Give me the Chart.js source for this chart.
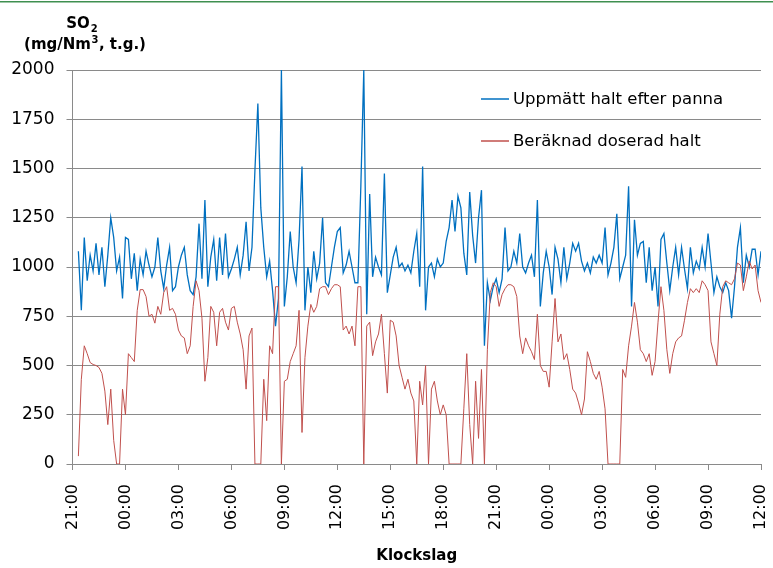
<!DOCTYPE html>
<html>
<head>
<meta charset="utf-8">
<script src="https://cdn.jsdelivr.net/npm/chart.js@4.4.0/dist/chart.umd.min.js"></script>
<style>
  html, body { margin: 0; padding: 0; background: #fff; }
</style>
</head>
<body>
<canvas id="so2Chart" width="773" height="568"></canvas>
<script>
// x axis: 3 hour ticks from 21:00 to 12:00 (day after next)
const timeLabels = ['21:00', '00:00', '03:00', '06:00', '09:00', '12:00', '15:00',
                    '18:00', '21:00', '00:00', '03:00', '06:00', '09:00', '12:00'];
const hoursPerTick = 3;
const sampleHours = 1 / 6; // one reading every 10 minutes

const seriesNames = ['Uppmätt halt efter panna', 'Beräknad doserad halt'];

// Uppmätt halt efter panna (mg/Nm3)
const measured = [
  null, null, 1080, 780, 1150, 930, 1060, 980, 1120, 960,
  1100, 900, 1060, 1250, 1150, 980, 1050, 840, 1150, 1140,
  940, 1070, 880, 1040, 960, 1080, 1010, 950, 1000, 1150,
  980, 890, 1010, 1100, 880, 900, 1000, 1060, 1100, 960,
  880, 860, 950, 1220, 940, 1340, 900, 1050, 1140, 930,
  1150, 960, 1170, 950, 990, 1040, 1100, 960, 1060, 1230,
  980, 1100, 1490, 1830, 1300, 1100, 950, 1030, 880, 700,
  840, 2000, 800, 950, 1180, 1000, 920, 1140, 1510, 780,
  1000, 870, 1080, 940, 1020, 1250, 920, 900, 1000, 1100,
  1180, 1200, 970, 1010, 1080, 1000, 920, 920, 1410, 2000,
  760, 1370, 950, 1050, 1000, 960, 1475, 870, 960, 1050,
  1100, 1000, 1020, 980, 1010, 970, 1080, 1170, 900, 1510,
  780, 1000, 1020, 950, 1040, 1000, 1020, 1130, 1200, 1340,
  1180, 1360, 1300, 1070, 960, 1380, 1160, 1020, 1250, 1390,
  600, 920, 830, 900, 940, 870, 940, 1200, 980, 1000,
  1080, 1020, 1170, 1000, 970, 1020, 1060, 950, 1340, 800,
  970, 1080, 1000, 860, 1100, 1040, 920, 1100, 940, 1020,
  1120, 1080, 1120, 1030, 980, 1020, 970, 1050, 1020, 1060,
  1020, 1200, 960, 1020, 1100, 1270, 940, 1000, 1060, 1410,
  800, 1240, 1060, 1120, 1130, 920, 1100, 880, 1000, 800,
  1140, 1170, 1020, 880, 1000, 1100, 960, 1100, 990, 890,
  1100, 970, 1030, 990, 1100, 1000, 1170, 1020, 870, 950,
  900, 870, 920, 880, 740, 900, 1100, 1200, 920, 1060,
  1000, 1090, 1090, 960, 1080
];

// Beräknad doserad halt (mg/Nm3)
const dosed = [
  null, null, 40, 430, 600, 560, 515, 505, 500, 490,
  460, 370, 200, 380, 120, 0, 0, 380, 250, 560,
  540, 520, 780, 885, 885, 850, 750, 760, 715, 800,
  760, 870, 900, 780, 790, 760, 680, 650, 640, 560,
  600, 800, 930, 880, 740, 420, 540, 800, 770, 600,
  770, 790, 720, 680, 790, 800, 720, 660, 580, 380,
  650, 690, 0, 0, 0, 430, 220, 600, 560, 900,
  900, 0, 420, 430, 520, 560, 600, 780, 160, 540,
  700, 810, 770, 800, 890, 900, 900, 860, 890, 910,
  910, 900, 680, 700, 660, 700, 600, 900, 900, 0,
  700, 720, 550, 620, 660, 760, 560, 360, 730, 720,
  650, 500, 440, 380, 430, 360, 320, 0, 420, 300,
  500, 0, 380, 420, 320, 250, 300, 250, 0, 0,
  0, 0, 0, 280, 560, 200, 0, 420, 130, 480,
  0, 580, 870, 920, 900, 800, 860, 890, 910, 910,
  900, 850, 650, 560, 640, 600, 570, 530, 760, 500,
  470, 470, 390, 620, 840, 620, 660, 530, 560, 480,
  380, 360, 310, 250, 330, 570, 520, 460, 430, 470,
  390, 280, 0, 0, 0, 0, 0, 480, 440, 600,
  700, 820, 720, 580, 560, 520, 560, 450, 520, 720,
  900, 780, 580, 460, 560, 620, 640, 650, 730, 820,
  890, 870, 890, 870, 930, 910, 880, 620, 560, 500,
  760, 900, 930, 920, 910, 940, 1020, 1010, 880, 950,
  1030, 990, 1010, 880, 820
];

function toPoints(values) {
  return values.map((v, i) => ({ x: i * sampleHours, y: v }));
}

const gridGrey = '#8a8a8a';
const tickFont = { family: 'DejaVu Sans', size: 17 };

// legend inside the plot, axis title and the thin green frame line
const extrasPlugin = {
  id: 'extras',
  afterDraw(chart) {
    const c = chart.ctx;
    c.save();
    c.fillStyle = '#3f8f50';
    c.fillRect(0, 1, chart.width, 1.5);

    chart.data.datasets.forEach((ds, k) => {
      const y = 99 + k * 42;
      c.strokeStyle = ds.borderColor;
      c.lineWidth = 1.5;
      c.beginPath();
      c.moveTo(481, y);
      c.lineTo(509, y);
      c.stroke();
      c.fillStyle = '#000';
      c.font = '16.5px "DejaVu Sans"';
      c.textAlign = 'left';
      c.textBaseline = 'middle';
      c.fillText(ds.label, 513, y + 1);
    });

    // SO2
    c.fillStyle = '#000';
    c.textBaseline = 'alphabetic';
    c.textAlign = 'left';
    c.font = 'bold 15px "DejaVu Sans"';
    const soW = c.measureText('SO').width;
    c.font = 'bold 10px "DejaVu Sans"';
    const subW = c.measureText('2').width;
    let x0 = 82 - (soW + subW + 1) / 2;
    c.font = 'bold 15px "DejaVu Sans"';
    c.fillText('SO', x0, 28);
    c.font = 'bold 10px "DejaVu Sans"';
    c.fillText('2', x0 + soW + 1, 32);

    // (mg/Nm3, t.g.)
    c.font = 'bold 15px "DejaVu Sans"';
    const a = '(mg/Nm', b = ', t.g.)';
    const aW = c.measureText(a).width, bW = c.measureText(b).width;
    c.font = 'bold 10px "DejaVu Sans"';
    const supW = c.measureText('3').width;
    x0 = 85 - (aW + supW + bW + 1) / 2;
    c.font = 'bold 15px "DejaVu Sans"';
    c.fillText(a, x0, 49);
    c.fillText(b, x0 + aW + supW + 1, 49);
    c.font = 'bold 10px "DejaVu Sans"';
    c.fillText('3', x0 + aW + 0.5, 43);
    c.restore();
  }
};

const ctx = document.getElementById('so2Chart').getContext('2d');
const chart = new Chart(ctx, {
  type: 'line',
  data: {
    datasets: [
      {
        label: seriesNames[0],
        data: toPoints(measured),
        borderColor: '#0070C0',
        borderWidth: 1.3,
        pointRadius: 0,
        tension: 0,
        order: 2
      },
      {
        label: seriesNames[1],
        data: toPoints(dosed),
        borderColor: '#C0504D',
        borderWidth: 1,
        pointRadius: 0,
        tension: 0,
        order: 1
      }
    ]
  },
  options: {
    responsive: false,
    animation: false,
    devicePixelRatio: 1,
    layout: { padding: { top: 70, right: 12, left: 0, bottom: 0 } },
    scales: {
      x: {
        type: 'linear',
        min: 0,
        max: 39,
        ticks: {
          stepSize: hoursPerTick,
          autoSkip: false,
          maxRotation: 90,
          minRotation: 90,
          padding: 14,
          color: '#000',
          font: { family: 'DejaVu Sans', size: 16 },
          callback: (value) => timeLabels[Math.round(value / hoursPerTick)]
        },
        grid: { drawOnChartArea: false, tickLength: 6, color: gridGrey },
        border: { color: gridGrey },
        title: {
          display: true,
          text: 'Klockslag',
          color: '#000',
          font: { family: 'DejaVu Sans', size: 15, weight: 'bold' },
          padding: { top: 0, bottom: 3 }
        },
        afterFit: (scale) => {
          scale.height = 104;
          // rotated labels would otherwise shrink the plot on the right
          scale.paddingLeft = 0;
          scale.paddingRight = 0;
        }
      },
      y: {
        min: 0,
        max: 2000,
        ticks: {
          stepSize: 250,
          padding: 12,
          color: '#000',
          font: tickFont,
          callback: (value) => String(value)
        },
        grid: { color: gridGrey, tickLength: 6 },
        border: { color: gridGrey },
        afterFit: (scale) => { scale.width = 72.5; }
      }
    },
    plugins: {
      legend: { display: false },
      tooltip: { enabled: false }
    }
  },
  plugins: [extrasPlugin]
});
</script>
</body>
</html>
